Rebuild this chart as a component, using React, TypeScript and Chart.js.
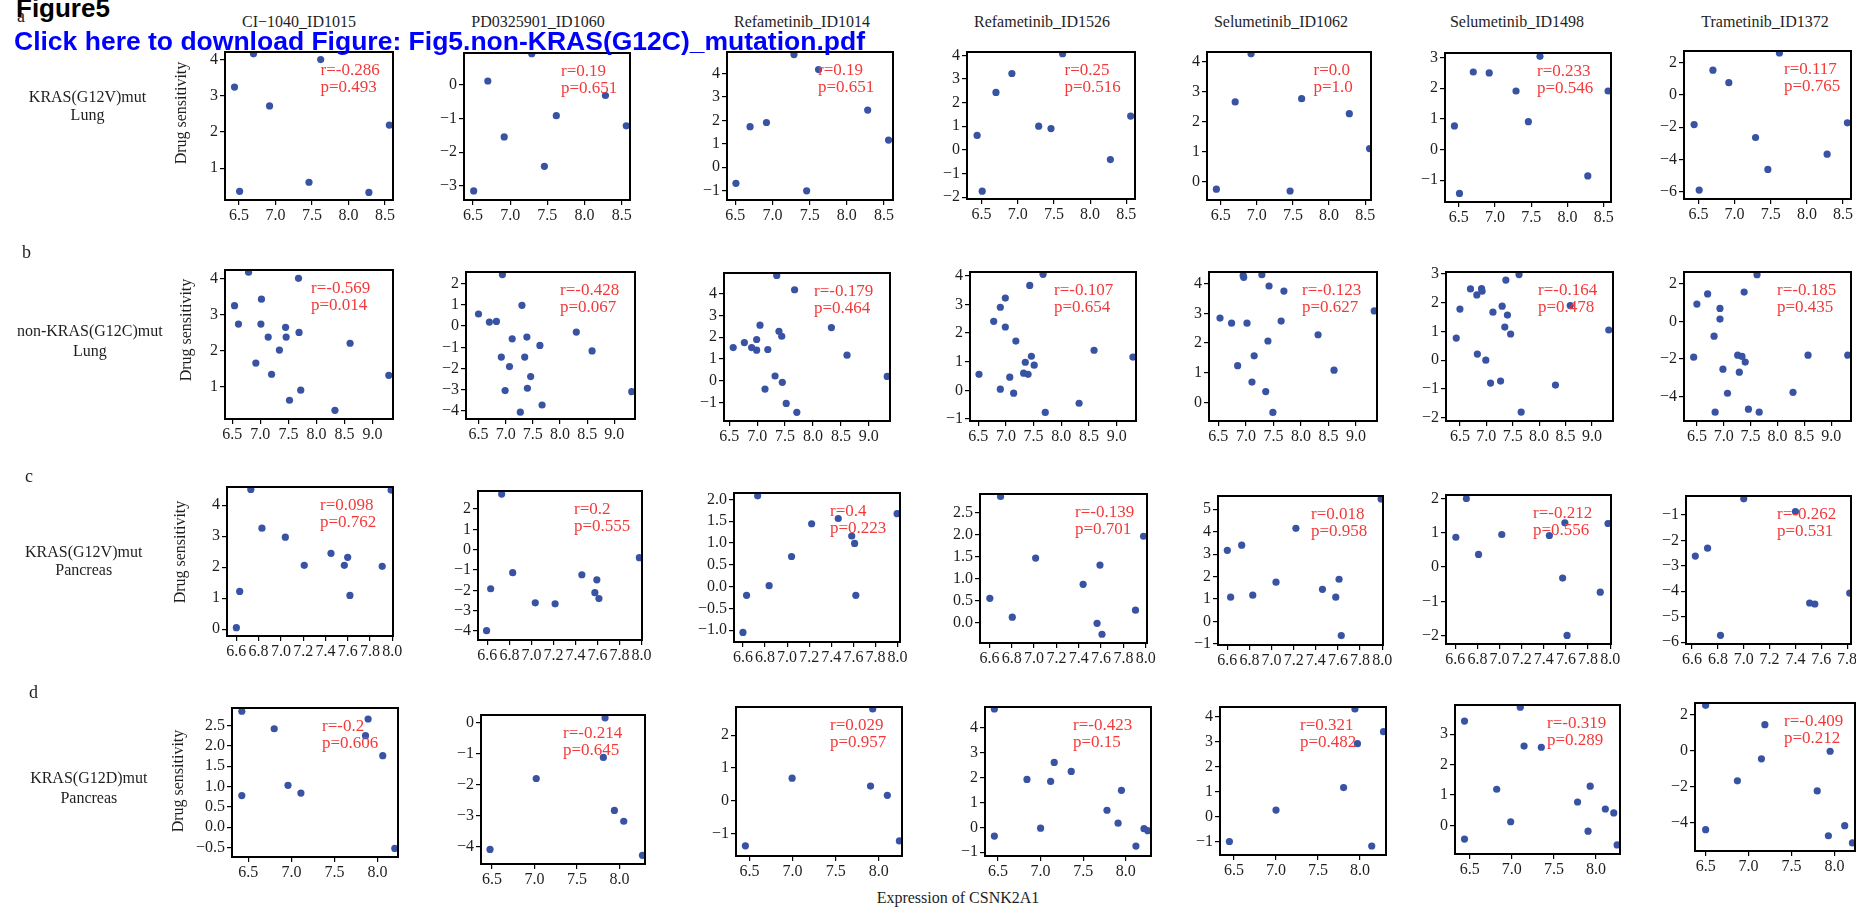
import React, { useEffect, useRef } from 'react';
import { Chart, registerables } from 'chart.js';

Chart.register(...registerables);

// ---------------- data ----------------
const DRUGS = ['CI\u22121040_ID1015', 'PD0325901_ID1060', 'Refametinib_ID1014', 'Refametinib_ID1526', 'Selumetinib_ID1062', 'Selumetinib_ID1498', 'Trametinib_ID1372'];
const ROW_LABELS = [['KRAS(G12V)mut', 'Lung'], ['non-KRAS(G12C)mut', 'Lung'], ['KRAS(G12V)mut', 'Pancreas'], ['KRAS(G12D)mut', 'Pancreas']];
const ROW_LETTERS = ['a', 'b', 'c', 'd'];
const Y_TITLE = 'Drug sensitivity';
const X_TITLE = 'Expression of CSNK2A1';

// Row a: KRAS(G12V)mut Lung (shared expression values)
const X_A = [6.44, 6.51, 6.70, 6.92, 7.29, 7.46, 7.62, 8.28, 8.56];
const A1_Y = [3.24, 0.36, 4.16, 2.72, null, 0.61, 4.00, 0.33, 2.19];
const A2_Y = [null, -3.15, 0.11, -1.55, 0.92, -2.42, -0.92, -0.32, -1.22];
const A3_Y = [null, -0.69, 1.73, 1.91, 4.81, -1.01, 4.17, 2.44, 1.16];
const A4_Y = [0.61, -1.75, 2.43, 3.23, 1.00, 0.90, 4.07, -0.41, 1.43];
const A5_Y = [-0.25, null, 2.65, 4.25, null, -0.31, 2.76, 2.26, 1.10];
const A6_Y = [0.77, -1.43, 2.53, 2.50, 1.91, 0.91, 3.04, -0.86, 1.91];
const A7_Y = [-1.84, -5.90, 1.53, 0.76, -2.64, -4.62, 2.60, -3.67, -1.73];

// Row b: non-KRAS(G12C)mut Lung
const B1_X = [6.54, 6.61, 6.79, 6.92, 7.02, 7.01, 7.14, 7.20, 7.34, 7.45, 7.46, 7.52, 7.68, 7.69, 7.72, 8.33, 8.60, 9.29];
const B1_Y = [3.24, 2.73, 4.17, 1.65, 3.42, 2.73, 2.37, 1.34, 2.01, 2.64, 2.37, 0.62, 4.00, 2.50, 0.90, 0.34, 2.20, 1.31];
const B2_X = [6.50, 6.70, 6.83, 6.94, 6.92, 6.99, 7.07, 7.12, 7.30, 7.35, 7.39, 7.40, 7.27, 7.46, 7.63, 7.67, 8.30, 8.59, 9.32];
const B2_Y = [0.57, 0.19, 0.22, 2.43, -1.46, -3.04, -1.91, -0.60, 0.98, -1.46, -0.52, -2.93, -4.06, -2.38, -0.91, -3.72, -0.28, -1.17, -3.09];
const B3_X = [6.57, 6.77, 6.90, 6.99, 6.99, 7.05, 7.19, 7.14, 7.32, 7.35, 7.39, 7.44, 7.45, 7.52, 7.67, 7.71, 8.33, 8.61, 9.33];
const B3_Y = [1.52, 1.75, 1.52, 1.89, 1.40, 2.55, 1.43, -0.39, 0.21, 4.84, 2.27, 2.04, -0.08, -1.05, 4.18, -1.46, 2.44, 1.17, 0.19];
const B4_X = [6.515, 6.78, 6.90, 6.99, 6.99, 6.90, 7.07, 7.14, 7.18, 7.35, 7.32, 7.40, 7.43, 7.46, 7.51, 7.67, 7.71, 8.32, 8.59, 9.29];
const B4_Y = [0.56, 2.41, 2.90, 3.22, 2.21, 0.04, 0.46, -0.10, 1.72, 0.98, 0.60, 0.56, 3.66, 1.19, 0.88, 4.05, -0.77, -0.45, 1.40, 1.16];
const B5_X = [6.53, 6.74, 6.95, 6.96, 7.02, 6.85, 7.11, 7.15, 7.29, 7.42, 7.69, 7.40, 7.36, 7.49, 7.64, 8.31, 8.60, 9.33];
const B5_Y = [2.84, 2.67, 4.27, 4.21, 2.67, 1.24, 0.69, 1.57, 4.30, 3.92, 3.75, 2.07, 0.37, -0.33, 2.74, 2.28, 1.09, 3.08];
const B6_X = [6.43, 6.50, 6.70, 6.82, 6.83, 6.91, 6.92, 6.99, 7.08, 7.125, 7.27, 7.30, 7.35, 7.37, 7.40, 7.46, 7.62, 7.66, 8.31, 8.59, 9.32];
const B6_Y = [0.77, 1.78, 2.48, 2.27, 0.21, 2.49, 2.40, 0.00, -0.80, 1.67, -0.73, 1.88, 1.15, 2.79, 1.57, 0.91, 2.98, -1.81, -0.87, 1.90, 1.05];
const B7_X = [6.44, 6.50, 6.70, 6.82, 6.93, 6.93, 6.84, 6.985, 7.07, 7.26, 7.34, 7.40, 7.29, 7.38, 7.46, 7.62, 7.66, 8.29, 8.57, 9.31];
const B7_Y = [-1.90, 0.93, 1.47, -0.78, 0.70, 0.13, -4.83, -2.54, -3.82, -1.79, -1.86, -2.16, -2.70, 1.57, -4.67, 2.50, -4.83, -3.77, -1.79, -1.79];

// Row c: KRAS(G12V)mut Pancreas
const C1_X = [6.60, 6.63, 6.73, 6.83, 7.04, 7.21, 7.45, 7.57, 7.60, 7.62, 7.91, 7.99];
const C1_Y = [0.05, 1.22, 4.51, 3.26, 2.97, 2.06, 2.45, 2.06, 2.32, 1.09, 2.03, 4.49];
const C2_X = [6.593, 6.63, 6.73, 6.83, 7.035, 7.215, 7.458, 7.576, 7.594, 7.613, 7.98];
const C2_Y = [-3.98, -1.92, 2.74, -1.13, -2.61, -2.66, -1.23, -2.11, -1.48, -2.40, -0.39];
const C3_X = [6.60, 6.633, 6.733, 6.837, 7.04, 7.222, 7.463, 7.585, 7.611, 7.622, 7.996];
const C3_Y = [-1.05, -0.20, 2.08, 0.02, 0.69, 1.44, 1.56, 1.16, 0.99, -0.20, 1.67];
const C4_X = [6.604, 6.70, 6.805, 7.014, 7.439, 7.564, 7.59, 7.608, 7.908, 7.98];
const C4_Y = [0.55, 2.88, 0.12, 1.47, 0.87, -0.02, 1.31, -0.27, 0.28, 1.97];
const C5_X = [6.60, 6.63, 6.73, 6.83, 7.04, 7.22, 7.46, 7.58, 7.61, 7.63, 7.99];
const C5_Y = [3.17, 1.08, 3.40, 1.17, 1.75, 4.15, 1.43, 1.08, 1.88, -0.63, 5.46];
const C6_X = [6.605, 6.70, 6.81, 7.02, 7.45, 7.57, 7.59, 7.61, 7.91, 7.98];
const C6_Y = [0.87, 2.00, 0.37, 0.95, 0.92, -0.32, 1.29, -1.99, -0.73, 1.27];
const C7_X = [6.625, 6.72, 6.82, 7.00, 7.40, 7.51, 7.55, 7.82];
const C7_Y = [-2.62, -2.31, -5.73, -0.37, -0.87, -4.46, -4.50, -4.07];

// Row d: KRAS(G12D)mut Pancreas
const D1_X = [6.424, 6.424, 6.80, 6.96, 7.11, 7.86, 7.89, 8.06, 8.20];
const D1_Y = [2.85, 0.78, 2.42, 1.03, 0.84, 2.25, 2.66, 1.76, -0.52];
const D2_X = [6.476, 7.02, 7.81, 7.83, 7.94, 8.05, 8.27];
const D2_Y = [-4.09, -1.80, -1.12, 0.16, -2.83, -3.18, -4.28];
const D3_X = [6.453, 6.995, 7.905, 7.93, 8.10, 8.24];
const D3_Y = [-1.37, 0.69, 0.45, 2.80, 0.17, -1.22];
const D4_X = [6.457, 6.457, 6.84, 7.00, 7.118, 7.16, 7.36, 7.78, 7.91, 7.95, 8.12, 8.215, 8.26];
const D4_Y = [4.76, -0.35, 1.93, -0.03, 1.85, 2.61, 2.25, 0.69, 0.17, 1.49, -0.75, -0.05, -0.13];
const D5_X = [6.445, 7.0, 7.805, 7.94, 7.97, 8.14, 8.28];
const D5_Y = [-0.99, 0.27, 1.17, 4.32, 2.93, -1.17, 3.41];
const D6_X = [6.438, 6.438, 6.82, 6.986, 7.10, 7.145, 7.35, 7.78, 7.905, 7.93, 8.11, 8.21, 8.25];
const D6_Y = [3.43, -0.45, 1.19, 0.12, 3.89, 2.61, 2.57, 0.77, -0.19, 1.29, 0.54, 0.41, -0.64];
const D7_X = [6.5, 6.5, 6.87, 7.15, 7.19, 7.80, 7.93, 7.95, 8.12, 8.21];
const D7_Y = [2.52, -4.41, -1.69, -0.46, 1.44, -2.25, -4.75, -0.04, -4.19, -5.15];

// correlation labels
const R_A = ['r=-0.286', 'r=0.19', 'r=0.19', 'r=0.25', 'r=0.0', 'r=0.233', 'r=0.117'];
const P_A = ['p=0.493', 'p=0.651', 'p=0.651', 'p=0.516', 'p=1.0', 'p=0.546', 'p=0.765'];
const R_B = ['r=-0.569', 'r=-0.428', 'r=-0.179', 'r=-0.107', 'r=-0.123', 'r=-0.164', 'r=-0.185'];
const P_B = ['p=0.014', 'p=0.067', 'p=0.464', 'p=0.654', 'p=0.627', 'p=0.478', 'p=0.435'];
const R_C = ['r=0.098', 'r=0.2', 'r=0.4', 'r=-0.139', 'r=0.018', 'r=-0.212', 'r=-0.262'];
const P_C = ['p=0.762', 'p=0.555', 'p=0.223', 'p=0.701', 'p=0.958', 'p=0.556', 'p=0.531'];
const R_D = ['r=-0.2', 'r=-0.214', 'r=0.029', 'r=-0.423', 'r=0.321', 'r=-0.319', 'r=-0.409'];
const P_D = ['p=0.606', 'p=0.645', 'p=0.957', 'p=0.15', 'p=0.482', 'p=0.289', 'p=0.212'];

// axis limits and ticks
const XT_A = [6.5, 7.0, 7.5, 8.0, 8.5];
const XT_B = [6.5, 7.0, 7.5, 8.0, 8.5, 9.0];
const XT_C = [6.6, 6.8, 7.0, 7.2, 7.4, 7.6, 7.8, 8.0];
const XT_C7 = [6.6, 6.8, 7.0, 7.2, 7.4, 7.6, 7.8];
const XT_D = [6.5, 7.0, 7.5, 8.0];

const XLIM_A = [[6.31, 8.61], [6.38, 8.61], [6.39, 8.62], [6.30, 8.62], [6.31, 8.58], [6.31, 8.60], [6.30, 8.61]];
const YLIM_A = [[0.12, 4.21], [-3.42, 0.94], [-1.40, 4.92], [-2.08, 4.14], [-0.61, 4.31], [-1.71, 3.15], [-6.45, 2.72]];
const YT_A = [[1, 2, 3, 4], [-3, -2, -1, 0], [-1, 0, 1, 2, 3, 4], [-2, -1, 0, 1, 2, 3, 4], [0, 1, 2, 3, 4], [-1, 0, 1, 2, 3], [-6, -4, -2, 0, 2]];

const XLIM_B = [[6.37, 9.365], [6.27, 9.38], [6.405, 9.38], [6.353, 9.346], [6.33, 9.38], [6.236, 9.40], [6.26, 9.37]];
const YLIM_B = [[0.10, 4.23], [-4.38, 2.55], [-1.86, 4.95], [-1.07, 4.13], [-0.62, 4.39], [-2.12, 3.07], [-5.30, 2.64]];
const YT_B = [[1, 2, 3, 4], [-4, -3, -2, -1, 0, 1, 2], [-1, 0, 1, 2, 3, 4], [-1, 0, 1, 2, 3, 4], [0, 1, 2, 3, 4], [-2, -1, 0, 1, 2, 3], [-4, -2, 0, 2]];

const XLIM_C = [[6.516, 8.007], [6.515, 8.004], [6.519, 8.022], [6.516, 8.011], [6.516, 8.007], [6.516, 8.007], [6.553, 7.83]];
const YLIM_C = [[-0.22, 4.59], [-4.44, 2.89], [-1.27, 2.145], [-0.47, 2.935], [-1.05, 5.59], [-2.24, 2.10], [-6.07, -0.26]];
const YT_C = [[0, 1, 2, 3, 4], [-4, -3, -2, -1, 0, 1, 2], [-1, -0.5, 0, 0.5, 1, 1.5, 2], [0, 0.5, 1, 1.5, 2, 2.5], [-1, 0, 1, 2, 3, 4, 5], [-2, -1, 0, 1, 2], [-6, -5, -4, -3, -2, -1]];
const YD_C = [0, 0, 1, 1, 0, 0, 0];

const XLIM_D = [[6.31, 8.237], [6.37, 8.30], [6.344, 8.27], [6.347, 8.297], [6.333, 8.31], [6.325, 8.284], [6.376, 8.24]];
const YLIM_D = [[-0.73, 2.93], [-4.56, 0.25], [-1.68, 2.86], [-1.15, 4.84], [-1.53, 4.40], [-0.94, 3.96], [-5.6, 2.65]];
const YT_D = [[-0.5, 0, 0.5, 1, 1.5, 2, 2.5], [-4, -3, -2, -1, 0], [-1, 0, 1, 2], [-1, 0, 1, 2, 3, 4], [-1, 0, 1, 2, 3, 4], [0, 1, 2, 3], [-4, -2, 0, 2]];
const YD_D = [1, 0, 0, 0, 0, 0, 0];

// ---------------- layout (pixels) ----------------
const BOX_A = [[224.5, 52, 392, 200], [464, 53, 630, 200], [727, 52, 893, 200], [967, 52, 1135, 199], [1206.5, 52, 1370, 200], [1445, 53, 1611, 202], [1684, 51, 1851, 199]];
const BOX_B = [[225, 270, 393, 419], [466, 272, 635, 419], [724, 273, 890, 421], [970, 272, 1136, 421], [1209, 272, 1377, 421], [1446, 272, 1613, 421], [1684, 272, 1851, 421]];
const BOX_C = [[227, 487, 393, 636], [478, 491, 642, 640], [734, 493, 900, 642], [980, 494, 1147, 643], [1218, 496, 1383, 645], [1446, 495, 1611, 644], [1686, 496, 1851, 644]];
const BOX_D = [[232, 708, 398, 857], [481, 715, 645, 864], [736, 707, 902, 856], [984.5, 707, 1150.6, 856], [1220, 707, 1386, 855], [1455, 705, 1620, 854], [1695, 703, 1855, 851]];
const OFF_A = [96, 97, 91, 97.5, 107, 92, 100];
const OFF_B = [86, 94, 90, 84, 93, 92, 93];
const OFF_C = [93, 96, 96, 95, 93, 87, 91];
const OFF_D = [90, 82, 94, 88.5, 80, 92, 89];
const TITLE_X = [299, 538, 802, 1042, 1281, 1517, 1765];
const ROW_LABEL_POS = [[87.5, 102.7, 120.7], [89.8, 336, 356.7], [83.7, 557, 575], [88.8, 783, 803]];
const LETTER_POS = [[17, 22], [22, 258], [25, 482], [29, 698]];
const YTITLE_POS = [[180.5, 113], [185.5, 330], [180, 552], [178, 781]];

const W = 1856, H = 907;
const BLUE = '#3853a4';
const RED = '#f23a3a';
const TXT = '#1e1e1e';
const SERIF = '"Liberation Serif", "Times New Roman", Times, serif';
const SANS = '"Liberation Sans", Arial, Helvetica, sans-serif';
const YW = 44, PL = 4, PR = 12, PT = 14, XH = 28, PB = 2;

function toPts(xs: number[], ys: (number | null)[]) {
  const out: { x: number; y: number }[] = [];
  for (let i = 0; i < xs.length; i++) {
    const y = ys[i];
    if (y !== null && y !== undefined) out.push({ x: xs[i], y });
  }
  return out;
}

const ROWS = [
  { xs: [X_A, X_A, X_A, X_A, X_A, X_A, X_A], ys: [A1_Y, A2_Y, A3_Y, A4_Y, A5_Y, A6_Y, A7_Y], xlim: XLIM_A, ylim: YLIM_A, xt: [XT_A, XT_A, XT_A, XT_A, XT_A, XT_A, XT_A], yt: YT_A, yd: [0, 0, 0, 0, 0, 0, 0], r: R_A, p: P_A, box: BOX_A, off: OFF_A },
  { xs: [B1_X, B2_X, B3_X, B4_X, B5_X, B6_X, B7_X], ys: [B1_Y, B2_Y, B3_Y, B4_Y, B5_Y, B6_Y, B7_Y], xlim: XLIM_B, ylim: YLIM_B, xt: [XT_B, XT_B, XT_B, XT_B, XT_B, XT_B, XT_B], yt: YT_B, yd: [0, 0, 0, 0, 0, 0, 0], r: R_B, p: P_B, box: BOX_B, off: OFF_B },
  { xs: [C1_X, C2_X, C3_X, C4_X, C5_X, C6_X, C7_X], ys: [C1_Y, C2_Y, C3_Y, C4_Y, C5_Y, C6_Y, C7_Y], xlim: XLIM_C, ylim: YLIM_C, xt: [XT_C, XT_C, XT_C, XT_C, XT_C, XT_C, XT_C7], yt: YT_C, yd: YD_C, r: R_C, p: P_C, box: BOX_C, off: OFF_C },
  { xs: [D1_X, D2_X, D3_X, D4_X, D5_X, D6_X, D7_X], ys: [D1_Y, D2_Y, D3_Y, D4_Y, D5_Y, D6_Y, D7_Y], xlim: XLIM_D, ylim: YLIM_D, xt: [XT_D, XT_D, XT_D, XT_D, XT_D, XT_D, XT_D], yt: YT_D, yd: YD_D, r: R_D, p: P_D, box: BOX_D, off: OFF_D },
];

function fmt(v: number, d: number) {
  const s = Math.abs(v).toFixed(d);
  return v < -1e-9 ? '\u2212' + s : s;
}

const framePlugin = {
  id: 'frame',
  afterDraw(chart: any) {
    const { ctx, chartArea: a } = chart;
    ctx.save();
    ctx.strokeStyle = '#000';
    ctx.lineWidth = 2;
    ctx.strokeRect(a.left, a.top, a.right - a.left, a.bottom - a.top);
    ctx.restore();
  },
};

function Panel({ spec }: { spec: any }) {
  const ref = useRef<HTMLCanvasElement>(null);
  const [l, t, r, b] = spec.box;
  const L = Math.round(l), T = Math.round(t);
  const BW = Math.round(r - l), BH = Math.round(b - t);
  const cw = BW + YW + PL + PR;
  const ch = BH + PT + XH + PB;
  useEffect(() => {
    const tickFont = { family: SERIF, size: 16 };
    const grid = { display: true, drawOnChartArea: false, drawTicks: true, tickLength: 5, color: '#000', lineWidth: 1.2 };
    const chart = new Chart(ref.current as HTMLCanvasElement, {
      type: 'scatter',
      data: {
        datasets: [{
          data: spec.pts,
          backgroundColor: BLUE,
          borderWidth: 0,
          pointRadius: 3.6,
          pointHoverRadius: 3.6,
          clip: 0,
        } as any],
      },
      options: {
        animation: false,
        responsive: false,
        devicePixelRatio: 1,
        events: [],
        layout: { padding: { left: PL, right: PR, top: PT, bottom: PB } },
        plugins: { legend: { display: false }, tooltip: { enabled: false }, title: { display: false } },
        scales: {
          x: {
            type: 'linear',
            position: 'bottom',
            min: spec.xlim[0],
            max: spec.xlim[1],
            afterBuildTicks: (ax: any) => { ax.ticks = spec.xt.map((v: number) => ({ value: v })); },
            afterFit: (ax: any) => { ax.height = XH; },
            ticks: { autoSkip: false, maxRotation: 0, minRotation: 0, padding: 1, color: TXT, font: tickFont, callback: (v: any) => fmt(Number(v), 1) },
            grid,
            border: { display: false },
          },
          y: {
            type: 'linear',
            position: 'left',
            min: spec.ylim[0],
            max: spec.ylim[1],
            afterBuildTicks: (ax: any) => { ax.ticks = spec.yt.map((v: number) => ({ value: v })); },
            afterFit: (ax: any) => { ax.width = YW; },
            ticks: { autoSkip: false, padding: 2, color: TXT, font: tickFont, callback: (v: any) => fmt(Number(v), spec.yd) },
            grid,
            border: { display: false },
          },
        },
      } as any,
      plugins: [framePlugin],
    });
    return () => chart.destroy();
  }, []);
  return (
    <canvas
      ref={ref}
      width={cw}
      height={ch}
      style={{ position: 'absolute', left: L - YW - PL, top: T - PT, width: cw, height: ch, zIndex: 1 }}
    />
  );
}

function topFor(base: number, fs: number, lh: number, sans: boolean) {
  const asc = sans ? 0.905 : 0.891;
  const desc = sans ? 0.212 : 0.216;
  return base - ((lh - (asc + desc) * fs) / 2 + asc * fs);
}

function Txt({ x, base, fs, text, center, sans, bold, color, z }: any) {
  const top = topFor(base, fs, fs, !!sans);
  const style: any = {
    position: 'absolute',
    top,
    fontSize: fs,
    lineHeight: fs + 'px',
    fontFamily: sans ? SANS : SERIF,
    fontWeight: bold ? 700 : 400,
    color: color || TXT,
    whiteSpace: 'nowrap',
    zIndex: z || 2,
  };
  if (center) {
    style.left = x - 300;
    style.width = 600;
    style.textAlign = 'center';
  } else {
    style.left = x;
  }
  return <div style={style}>{text}</div>;
}

export default function App() {
  const specs: any[] = [];
  ROWS.forEach((row, ri) => {
    for (let ci = 0; ci < 7; ci++) {
      specs.push({
        key: ri + '-' + ci,
        pts: toPts(row.xs[ci], row.ys[ci] as any),
        xlim: row.xlim[ci],
        ylim: row.ylim[ci],
        xt: row.xt[ci],
        yt: row.yt[ci],
        yd: row.yd[ci],
        box: row.box[ci],
        r: row.r[ci],
        p: row.p[ci],
        off: row.off[ci],
      });
    }
  });

  return (
    <div style={{ position: 'absolute', left: 0, top: 0, width: W, height: H, background: '#fff', overflow: 'hidden' }}>
      {specs.map((s) => <Panel key={s.key} spec={s} />)}
      {specs.map((s) => (
        <React.Fragment key={'t' + s.key}>
          <Txt x={s.box[0] + s.off} base={s.box[1] + 23} fs={17} text={s.r} color={RED} z={3} />
          <Txt x={s.box[0] + s.off} base={s.box[1] + 40} fs={17} text={s.p} color={RED} z={3} />
        </React.Fragment>
      ))}
      {DRUGS.map((d, i) => <Txt key={'d' + i} x={TITLE_X[i]} base={27} fs={16} text={d} center />)}
      {ROW_LABELS.map((lab, i) => (
        <React.Fragment key={'rl' + i}>
          <Txt x={ROW_LABEL_POS[i][0]} base={ROW_LABEL_POS[i][1]} fs={16} text={lab[0]} center />
          <Txt x={ROW_LABEL_POS[i][0]} base={ROW_LABEL_POS[i][2]} fs={16} text={lab[1]} center />
        </React.Fragment>
      ))}
      {ROW_LETTERS.map((l, i) => <Txt key={'lt' + i} x={LETTER_POS[i][0]} base={LETTER_POS[i][1]} fs={18} text={l} />)}
      {YTITLE_POS.map((p, i) => (
        <div
          key={'yt' + i}
          style={{
            position: 'absolute', left: p[0] - 80, top: p[1] - 8, width: 160, height: 16,
            lineHeight: '16px', fontSize: 16, fontFamily: SERIF, color: TXT, textAlign: 'center',
            transform: 'rotate(-90deg)', transformOrigin: '50% 50%', whiteSpace: 'nowrap', zIndex: 2,
          }}
        >
          {Y_TITLE}
        </div>
      ))}
      <Txt x={958} base={903} fs={16} text={X_TITLE} center />
      <Txt x={16} base={17} fs={26} text="Figure5" sans bold color="#000" z={5} />
      <Txt x={14} base={50} fs={26.5} text="Click here to download Figure: Fig5.non-KRAS(G12C)_mutation.pdf" sans bold color="#0000ff" z={5} />
    </div>
  );
}
